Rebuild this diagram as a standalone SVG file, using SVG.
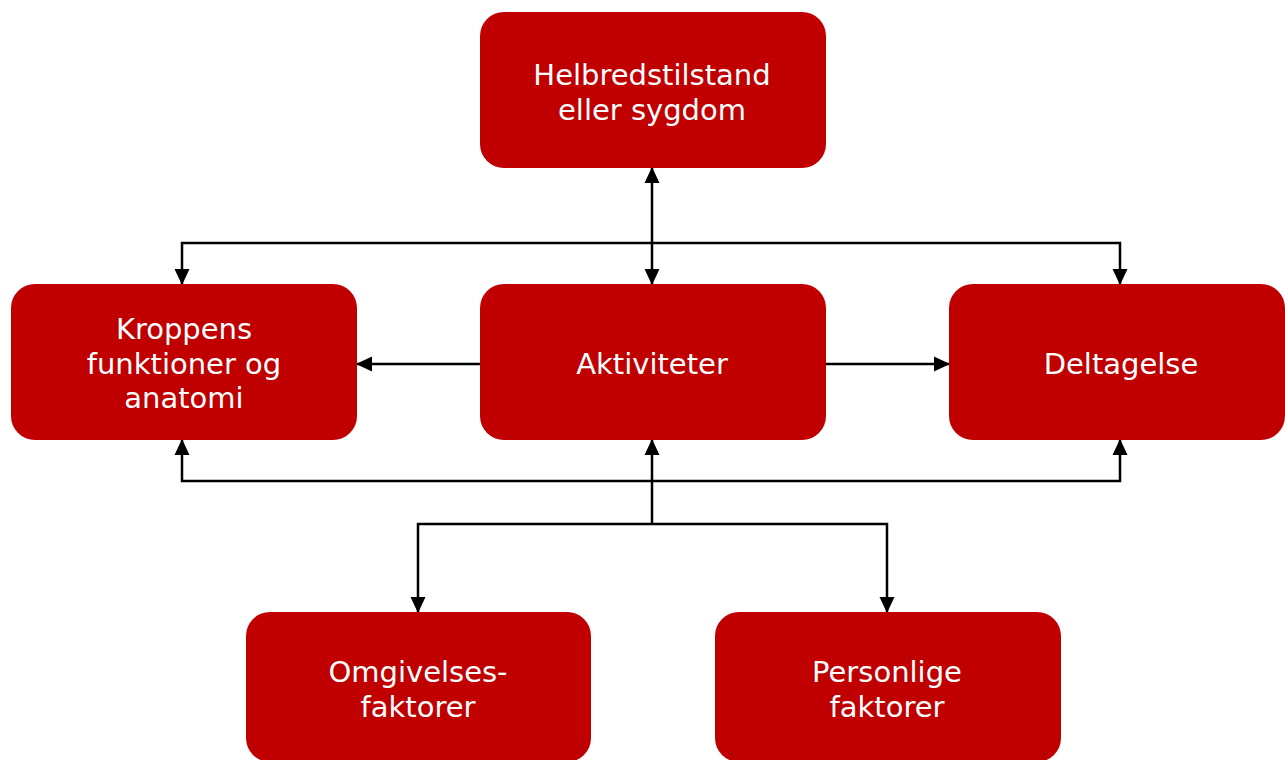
<svg xmlns="http://www.w3.org/2000/svg" width="1285" height="760" viewBox="0 0 1285 760">
<style>
.box{fill:#C00000;}
.lbl{fill:#ffffff;font-family:"DejaVu Sans","Verdana",sans-serif;font-size:29px;text-anchor:middle;}
.ln{fill:none;stroke:#000;stroke-width:2.5;}
</style>
<defs>
<marker id="ah" markerUnits="userSpaceOnUse" markerWidth="16" markerHeight="16" viewBox="0 0 16 16" refX="15" refY="8" orient="auto-start-reverse">
<path d="M0,0.5 L16,8 L0,15.5 Z" fill="#000"/>
</marker>
</defs>
<rect width="1285" height="760" fill="#fff"/>
<g id="connectors">
<path class="ln" d="M652,168 L652,284" marker-start="url(#ah)" marker-end="url(#ah)"/>
<path class="ln" d="M182,284 L182,243 L1120,243 L1120,284" marker-start="url(#ah)" marker-end="url(#ah)"/>
<path class="ln" d="M480,364 L357,364" marker-end="url(#ah)"/>
<path class="ln" d="M826,364 L949,364" marker-end="url(#ah)"/>
<path class="ln" d="M182,440 L182,481 L1120,481 L1120,440" marker-start="url(#ah)" marker-end="url(#ah)"/>
<path class="ln" d="M652,524 L652,440" marker-end="url(#ah)"/>
<path class="ln" d="M418,612 L418,524 L887,524 L887,612" marker-start="url(#ah)" marker-end="url(#ah)"/>
</g>
<g id="helbred">
<rect class="box" x="480" y="12" width="346" height="156" rx="24"/>
<text class="lbl" x="652" y="85">Helbredstilstand</text>
<text class="lbl" x="652" y="120">eller sygdom</text>
</g>
<g id="kroppens">
<rect class="box" x="11" y="284" width="346" height="156" rx="24"/>
<text class="lbl" x="184" y="339">Kroppens</text>
<text class="lbl" x="184" y="374">funktioner og</text>
<text class="lbl" x="184" y="408">anatomi</text>
</g>
<g id="aktiviteter">
<rect class="box" x="480" y="284" width="346" height="156" rx="24"/>
<text class="lbl" x="652" y="374">Aktiviteter</text>
</g>
<g id="deltagelse">
<rect class="box" x="949" y="284" width="336" height="156" rx="24"/>
<text class="lbl" x="1121" y="374">Deltagelse</text>
</g>
<g id="omgivelses">
<rect class="box" x="246" y="612" width="345" height="150" rx="24"/>
<text class="lbl" x="418" y="682">Omgivelses-</text>
<text class="lbl" x="418" y="717">faktorer</text>
</g>
<g id="personlige">
<rect class="box" x="715" y="612" width="346" height="150" rx="24"/>
<text class="lbl" x="887" y="682">Personlige</text>
<text class="lbl" x="887" y="717">faktorer</text>
</g>
</svg>
